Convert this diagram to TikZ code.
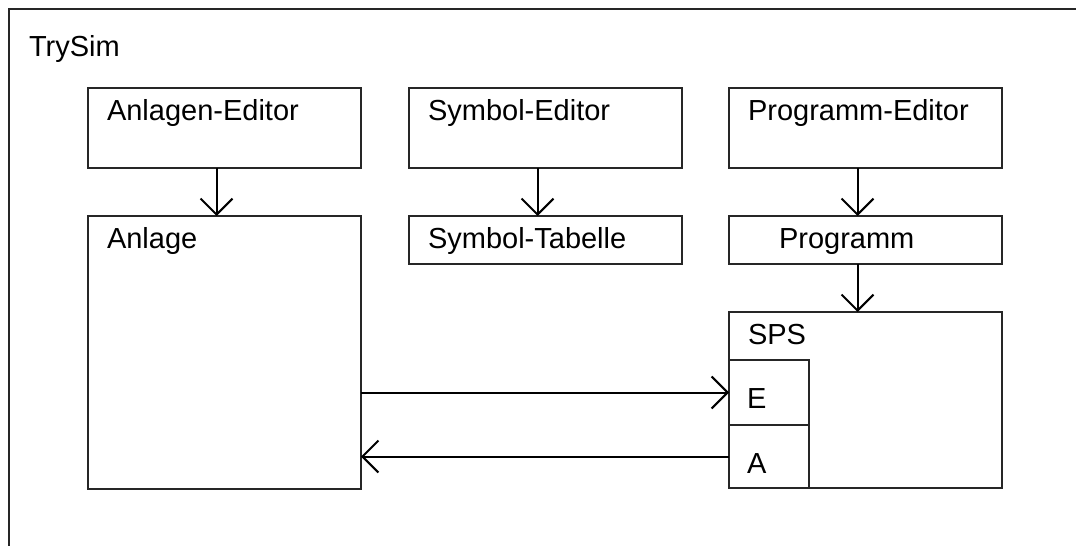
\documentclass[tikz,border=0pt]{standalone}
\usepackage{fontspec}
\setmainfont{Liberation Sans}
\usetikzlibrary{arrows.meta,positioning}
\tikzstyle{box}=[rectangle,draw=black!85,outer sep=0pt,inner sep=0pt,
minimum width=136.5pt]
\tikzstyle{editor}=[box,minimum height=40pt]
\tikzstyle{store}=[box,minimum height=24pt]
\tikzstyle{lbl}=[anchor=north west,inner xsep=9pt,inner ysep=5pt,
text height=10.5pt,text depth=3pt,font=\fontsize{14.5}{17}\selectfont]
\begin{document}
\begin{tikzpicture}[x=0.5pt,y=-0.5pt,line width=1pt,
  >={Straight Barb[length=8pt,width=16pt]}]
            \useasboundingbox (0,0) rectangle (1076,546);
            \clip (0,0) rectangle (1076,546);

            % FRAME

            \node[box,anchor=north west,minimum width=560pt,minimum height=290pt,
              label={[lbl,name=tst,inner xsep=9.5pt,inner ysep=12.5pt]north west:TrySim}] (trysim) at (9,9) {};

            % EDITOR PART

            \node[editor,anchor=north west,
              label={[lbl,name=aet]north west:Anlagen-Editor}] (ae) at (88,88) {};
            \node[editor,right=24pt of ae,
              label={[lbl,name=set]north west:Symbol-Editor}] (se) {};
            \node[editor,right=23.5pt of se,
              label={[lbl,name=pet]north west:Programm-Editor}] (pe) {};

            % DATA PART

            \node[box,below=24pt of ae,minimum height=136.5pt,
              label={[lbl,name=anlt]north west:Anlage}] (anl) {};
            \node[store,below=24pt of se,
              label={[lbl,name=stt]north west:Symbol-Tabelle}] (st) {};
            \node[store,below=24pt of pe,
              label={[lbl,name=prgt,inner xsep=24.5pt]north west:Programm}] (prg) {};

            % SPS PART

            \node[box,below=24pt of prg,minimum height=88pt,
              label={[lbl,name=spst]north west:SPS}] (sps) {};
            \node[box,anchor=north west,below right=24pt and 0pt of sps.north west,
              minimum width=40pt,minimum height=32.5pt,
              label={[lbl,name=eint,inner xsep=8.5pt,inner ysep=13pt]north west:E}] (ein) {};
            \node[box,below=0pt of ein,
              minimum width=40pt,minimum height=31.5pt,
              label={[lbl,name=aust,inner xsep=8.5pt,inner ysep=13pt]north west:A}] (aus) {};

            % Connections

            \path[->] ([xshift=-4pt]ae.south) edge ([xshift=-4pt]anl.north);
            \path[->] ([xshift=-4pt]se.south) edge ([xshift=-4pt]st.north);
            \path[->] ([xshift=-4pt]pe.south) edge ([xshift=-4pt]prg.north);
            \path[->] ([xshift=-4pt]prg.south) edge ([xshift=-4pt]sps.north);
            \path[->] (anl.east |- ein.west) edge (ein.west);
            \path[->] (aus.west) edge (anl.east |- aus.west);

        \end{tikzpicture}
\end{document}
